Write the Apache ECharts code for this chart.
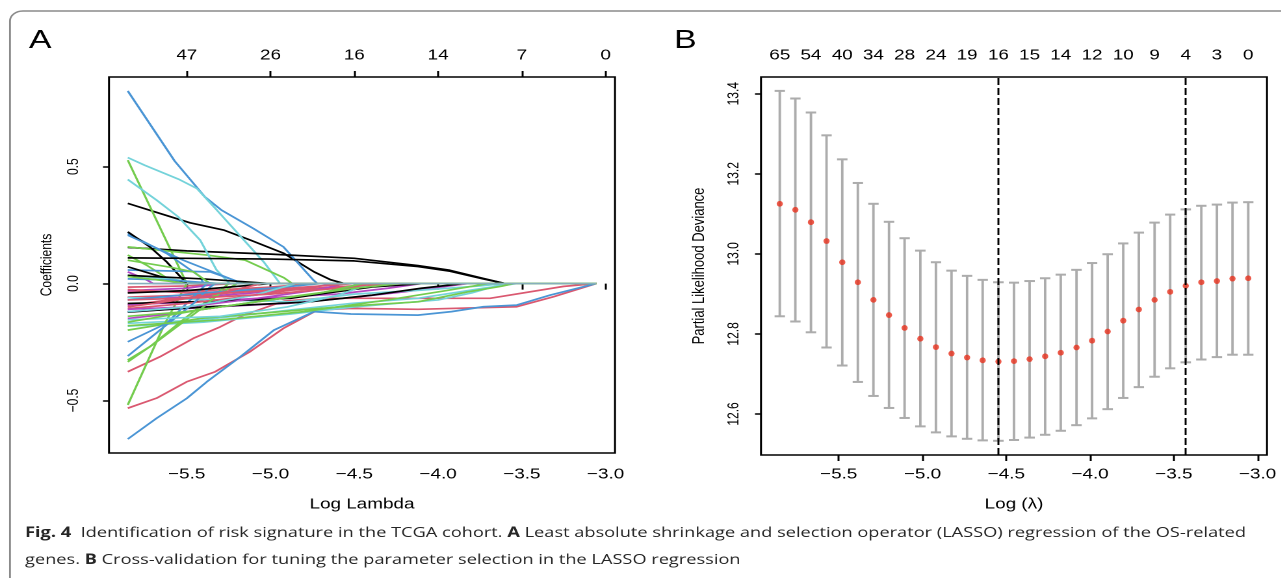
<!DOCTYPE html>
<html><head><meta charset="utf-8">
<script src="https://cdn.jsdelivr.net/npm/echarts@6/dist/echarts.min.js"></script>
<style>
html,body{margin:0;padding:0;background:#fff;overflow:hidden;}
#c{width:986px;height:578px;transform:scaleX(1.3);transform-origin:0 0;}
</style>
</head><body><div id="c"></div>
<script>
// ---------- Panel A: LASSO coefficient paths (x = log lambda, y = coefficient) ----------
const lassoTicksX = [-5.5, -5.0, -4.5, -4.0, -3.5, -3.0];
const lassoDfLabels = ['47', '26', '16', '14', '7', '0'];
const lassoTicksY = [-0.5, 0.0, 0.5];
const lassoEndLambda = -3.056;

const blackPaths = [
  [[-5.852,0.343],[-5.66,0.300],[-5.48,0.260],[-5.28,0.229],[-5.12,0.186],[-4.92,0.129],[-4.74,0.050],[-4.64,0.016],[-4.56,0]],
  [[-5.852,0.155],[-5.5,0.140],[-5.0,0.126],[-4.5,0.108],[-4.12,0.077],[-3.93,0.057],[-3.73,0.022],[-3.6,0]],
  [[-5.852,0.221],[-5.72,0.157],[-5.62,0.093],[-5.5,0]],
  [[-5.852,0.110],[-5.5,0.108],[-5.0,0.105],[-4.5,0.097],[-4.12,0.073],[-3.93,0.053],[-3.73,0.020],[-3.6,0]],
  [[-5.852,0.072],[-5.62,0.022],[-5.5,0]],
  [[-5.852,-0.122],[-5.4,-0.100],[-4.78,-0.079],[-4.4,-0.050],[-4.1,-0.020],[-3.85,0]],
  [[-5.852,-0.085],[-5.3,-0.075],[-4.88,-0.063],[-4.68,-0.042],[-4.39,-0.014],[-4.09,0]],
  [[-5.852,0.035],[-5.4,0.020],[-5.0,0]],
  [[-5.852,-0.040],[-5.5,-0.030],[-5.0,0]]
];
const pinkPaths = [
  [[-5.852,-0.533],[-5.68,-0.490],[-5.5,-0.420],[-5.33,-0.377],[-5.12,-0.290],[-4.92,-0.190],[-4.72,-0.113],[-4.52,-0.106],[-4.12,-0.110],[-3.53,-0.099],[-3.31,-0.056],[-3.056,0]],
  [[-5.852,-0.377],[-5.66,-0.313],[-5.46,-0.234],[-5.3,-0.185],[-5.16,-0.135],[-4.92,-0.075],[-4.7,-0.063],[-3.69,-0.063],[-3.25,-0.012],[-3.056,0]],
  [[-5.852,-0.015],[-5.5,-0.010],[-5.2,0]],
  [[-5.852,-0.036],[-5.4,-0.030],[-5.0,-0.015],[-4.75,0]],
  [[-5.852,-0.058],[-5.5,-0.050],[-5.0,-0.030],[-4.6,-0.014],[-4.3,0]],
  [[-5.852,-0.093],[-5.4,-0.050],[-4.9,-0.015],[-4.8,0]],
  [[-5.852,-0.107],[-5.5,-0.085],[-5.2,-0.060],[-4.88,-0.028],[-4.5,-0.014],[-4.2,0]],
  [[-5.852,-0.025],[-5.5,-0.040],[-5.1,-0.030],[-4.7,-0.010],[-4.5,0]],
  [[-5.852,-0.070],[-5.4,-0.060],[-5.0,-0.045],[-4.6,-0.020],[-4.35,0]],
  [[-5.852,-0.100],[-5.6,-0.075],[-5.3,-0.040],[-5.05,0]]
];
const greenPaths = [
  [[-5.852,0.528],[-5.5,0]],
  [[-5.852,0.157],[-5.38,0.122],[-5.15,0.100],[-4.92,0.025],[-4.87,0]],
  [[-5.852,0.122],[-5.74,0.079],[-5.6,0.015],[-5.56,0]],
  [[-5.852,-0.519],[-5.63,-0.170],[-5.5,0]],
  [[-5.852,-0.327],[-5.72,-0.270],[-5.5,-0.142],[-5.32,-0.042],[-5.25,0]],
  [[-5.852,-0.199],[-5.42,-0.149],[-4.82,-0.113],[-4.52,-0.096],[-4.12,-0.078],[-3.82,-0.035],[-3.62,-0.011],[-3.55,0]],
  [[-5.852,-0.335],[-5.7,-0.260],[-5.55,-0.180],[-5.4,-0.100],[-5.3,-0.040],[-5.2,0]],
  [[-5.852,-0.165],[-5.4,-0.110],[-4.82,-0.050],[-4.5,-0.020],[-4.22,0]],
  [[-5.852,0.100],[-5.6,0.070],[-5.46,0.050],[-5.36,0]],
  [[-5.852,-0.180],[-5.3,-0.155],[-4.8,-0.120],[-4.3,-0.070],[-3.95,-0.030],[-3.7,0]],
  [[-5.852,-0.140],[-5.5,-0.120],[-5.1,-0.080],[-4.7,-0.040],[-4.45,0]],
  [[-5.852,0.030],[-5.6,0.010],[-5.5,0]]
];
const bluePaths = [
  [[-5.852,0.824],[-5.572,0.524],[-5.392,0.371],[-5.292,0.314],[-5.103,0.236],[-4.923,0.157],[-4.744,0.015],[-4.72,0]],
  [[-5.852,0.214],[-5.62,0.129],[-5.42,0.030],[-5.4,0]],
  [[-5.852,0.207],[-5.52,0.100],[-5.22,0.015],[-5.18,0]],
  [[-5.852,0.058],[-5.36,0.050],[-5.16,0]],
  [[-5.852,-0.665],[-5.68,-0.576],[-5.5,-0.491],[-5.38,-0.420],[-5.18,-0.313],[-4.98,-0.199],[-4.74,-0.120],[-4.52,-0.130],[-4.12,-0.135],[-3.92,-0.120],[-3.73,-0.099],[-3.53,-0.092],[-3.33,-0.049],[-3.056,0]],
  [[-5.852,-0.249],[-5.62,-0.170],[-5.42,-0.028],[-5.38,0]],
  [[-5.852,-0.310],[-5.66,-0.199],[-5.46,-0.085],[-5.36,-0.014],[-5.33,0]],
  [[-5.852,-0.070],[-5.4,-0.040],[-5.0,-0.020],[-4.7,0]],
  [[-5.852,0.020],[-5.6,0.015],[-5.3,0]]
];
const cyanPaths = [
  [[-5.852,0.539],[-5.751,0.506],[-5.55,0.447],[-5.44,0.407],[-5.32,0.314],[-5.141,0.172],[-5.041,0.093],[-4.943,0]],
  [[-5.852,0.445],[-5.68,0.357],[-5.55,0.285],[-5.42,0.186],[-5.322,0.058],[-5.243,0]],
  [[-5.852,-0.170],[-5.42,-0.156],[-4.88,-0.113],[-4.52,-0.085],[-4.12,-0.063],[-3.73,-0.020],[-3.53,0]],
  [[-5.852,-0.182],[-5.4,-0.165],[-4.88,-0.130],[-4.5,-0.100],[-4.0,-0.070],[-3.8,-0.040],[-3.6,0]],
  [[-5.852,-0.060],[-5.3,-0.070],[-4.88,-0.078],[-4.5,-0.045],[-4.1,-0.028],[-3.75,-0.010],[-3.6,0]],
  [[-5.852,0.036],[-5.6,0.020],[-5.4,0]],
  [[-5.852,-0.155],[-5.3,-0.140],[-4.9,-0.100],[-4.6,-0.050],[-4.4,0]],
  [[-5.852,-0.120],[-5.5,-0.100],[-5.1,-0.050],[-4.85,0]]
];
const magentaPaths = [
  [[-5.852,-0.120],[-5.2,-0.095],[-4.9,-0.085],[-4.52,-0.060],[-4.2,-0.035],[-3.88,-0.005],[-3.82,0]],
  [[-5.852,0.050],[-5.75,0.020],[-5.7,0]],
  [[-5.852,-0.149],[-5.6,-0.130],[-5.3,-0.100],[-5.0,-0.070],[-4.7,-0.040],[-4.4,0]],
  [[-5.852,-0.060],[-5.5,-0.060],[-5.1,-0.040],[-4.8,-0.020],[-4.6,0]],
  [[-5.852,-0.030],[-5.5,-0.020],[-5.3,0]],
  [[-5.852,-0.090],[-5.5,-0.080],[-5.0,-0.060],[-4.6,-0.045],[-4.3,-0.020],[-4.1,0]],
  [[-5.852,-0.110],[-5.5,-0.100],[-5.1,-0.065],[-4.75,-0.030],[-4.55,0]]
];
// coefficients that stay at zero over the whole path (drawn last, on top of the zero line)
const zeroPaths = [
  [[-5.852,0],[-3.056,0]]
];

// ---------- Panel B: cross-validation curve ----------
const logLambda = [-5.852,-5.759,-5.666,-5.573,-5.479,-5.386,-5.293,-5.200,-5.107,-5.013,-4.920,-4.827,-4.734,-4.641,-4.547,-4.454,-4.361,-4.268,-4.175,-4.081,-3.988,-3.895,-3.802,-3.709,-3.615,-3.522,-3.429,-3.336,-3.243,-3.150,-3.056];
const cvMean  = [13.125,13.110,13.079,13.032,12.979,12.929,12.885,12.847,12.815,12.788,12.767,12.751,12.741,12.734,12.731,12.732,12.737,12.744,12.753,12.766,12.783,12.806,12.833,12.861,12.885,12.905,12.920,12.929,12.932,12.938,12.939];
const cvUpper = [13.407,13.388,13.353,13.296,13.236,13.177,13.125,13.080,13.039,13.008,12.979,12.958,12.945,12.935,12.929,12.928,12.932,12.939,12.948,12.960,12.977,12.999,13.026,13.053,13.078,13.098,13.111,13.120,13.123,13.128,13.129];
const cvLower = [12.844,12.831,12.804,12.766,12.721,12.680,12.645,12.615,12.590,12.569,12.554,12.544,12.538,12.534,12.533,12.535,12.541,12.548,12.558,12.572,12.589,12.612,12.640,12.667,12.693,12.714,12.729,12.736,12.742,12.748,12.748];
const nzLabels = ['65','54','40','34','28','24','19','16','15','14','12','10','9','4','3','0']; // shown at every other lambda
const lambdaMinLog = -4.547;
const lambda1seLog = -3.429;
const cvTicksX = [-5.5, -5.0, -4.5, -4.0, -3.5, -3.0];
const cvTicksY = [12.6, 12.8, 13.0, 13.2, 13.4];

// ---------- build ----------
const S = 1.3; // horizontal stretch of the reference figure (applied by CSS on the container)
const FONT = '"Liberation Sans", Arial, Helvetica, sans-serif';
const CAP_FONT = '"Open Sans", "Noto Sans", sans-serif';
const colorMap = {black:'#000000', pink:'#DA5870', green:'#74CC4E', blue:'#4A95D5', cyan:'#74D3DA', magenta:'#B447C2', zero:'#86AFBC'};
const groups = [['black',blackPaths],['pink',pinkPaths],['green',greenPaths],['blue',bluePaths],['cyan',cyanPaths],['magenta',magentaPaths]];
const fmtNum = v => (v < 0 ? '\u2212' : '') + Math.abs(v).toFixed(1);
const near = (a, b) => Math.abs(a - b) < 1e-6;

const series = [];
function addPath(p, name) {
  const last = p[p.length - 1];
  const data = (last[1] === 0 && last[0] < lassoEndLambda) ? p.concat([[lassoEndLambda, 0]]) : p;
  series.push({
    type: 'line', xAxisIndex: 0, yAxisIndex: 0, data: data,
    showSymbol: false, symbol: 'none', silent: true, animation: false,
    lineStyle: {color: colorMap[name], width: 1.7}
  });
}
const maxLen = Math.max(...groups.map(g => g[1].length));
for (let i = 0; i < maxLen; i++) {
  for (const [name, paths] of groups) {
    if (paths[i]) addPath(paths[i], name);
  }
}
zeroPaths.forEach(p => addPath(p, 'zero'));

const topLambda = logLambda.filter((_, i) => i % 2 === 0);

series.push({
  type: 'custom', xAxisIndex: 2, yAxisIndex: 1, silent: true, animation: false, z: 2,
  data: logLambda.map((x, i) => [x, cvLower[i], cvUpper[i]]),
  encode: {x: 0, y: [1, 2]},
  renderItem: function (params, api) {
    const x = api.value(0);
    const lo = api.coord([x, api.value(1)]);
    const hi = api.coord([x, api.value(2)]);
    const hw = 5.2 / S;
    const st = {stroke: '#ACACAC', lineWidth: 2};
    return {type: 'group', children: [
      {type: 'line', shape: {x1: lo[0], y1: lo[1], x2: hi[0], y2: hi[1]}, style: {stroke: '#ACACAC', lineWidth: 1.9}},
      {type: 'line', shape: {x1: lo[0] - hw, y1: lo[1], x2: lo[0] + hw, y2: lo[1]}, style: st},
      {type: 'line', shape: {x1: hi[0] - hw, y1: hi[1], x2: hi[0] + hw, y2: hi[1]}, style: st}
    ]};
  }
});
series.push({
  type: 'scatter', xAxisIndex: 2, yAxisIndex: 1, silent: true, animation: false, z: 3,
  data: logLambda.map((x, i) => [x, cvMean[i]]),
  symbol: 'circle', symbolSize: [6.2 / S, 5.8],
  itemStyle: {color: '#E8321E'},
  markLine: {
    silent: true, symbol: ['none', 'none'], label: {show: false}, animation: false, z: 5,
    lineStyle: {color: '#000', type: [7, 3], width: 1.5},
    data: [{xAxis: lambdaMinLog}, {xAxis: lambda1seLog}]
  }
});

const tickStyle = {show: true, length: 6, lineStyle: {color: '#000', width: 1.5}};
const labelBase = {color: '#000', fontFamily: FONT, fontSize: 14.5};

const option = {
  animation: false,
  backgroundColor: '#fff',
  grid: [
    {left: 109 / S, top: 77, width: 506 / S, height: 376, show: true, borderColor: '#000', borderWidth: 1.5, backgroundColor: 'transparent', outerBoundsMode: 'none'},
    {left: 761 / S, top: 77, width: 506 / S, height: 378, show: true, borderColor: '#000', borderWidth: 1.5, backgroundColor: 'transparent', outerBoundsMode: 'none'}
  ],
  xAxis: [
    {type: 'value', gridIndex: 0, position: 'bottom', min: -5.964, max: -2.944,
     axisLine: {show: false}, splitLine: {show: false},
     axisTick: Object.assign({customValues: lassoTicksX}, tickStyle),
     axisLabel: Object.assign({customValues: lassoTicksX, margin: 14, formatter: fmtNum}, labelBase),
     name: 'Log Lambda', nameLocation: 'middle', nameGap: 44,
     nameTextStyle: {color: '#000', fontFamily: FONT, fontSize: 14.5}},
    {type: 'value', gridIndex: 0, position: 'top', min: -5.964, max: -2.944,
     axisLine: {show: false}, splitLine: {show: false},
     axisTick: Object.assign({customValues: lassoTicksX}, tickStyle),
     axisLabel: Object.assign({customValues: lassoTicksX, margin: 14,
       formatter: v => lassoDfLabels[lassoTicksX.findIndex(t => near(t, v))]}, labelBase)},
    {type: 'value', gridIndex: 1, position: 'bottom', min: -5.964, max: -2.944,
     axisLine: {show: false}, splitLine: {show: false},
     axisTick: Object.assign({customValues: cvTicksX}, tickStyle),
     axisLabel: Object.assign({customValues: cvTicksX, margin: 12, formatter: fmtNum}, labelBase),
     name: 'Log (\u03bb)', nameLocation: 'middle', nameGap: 42,
     nameTextStyle: {color: '#000', fontFamily: FONT, fontSize: 14.5}},
    {type: 'value', gridIndex: 1, position: 'top', min: -5.964, max: -2.944,
     axisLine: {show: false}, splitLine: {show: false},
     axisTick: {show: false},
     axisLabel: Object.assign({customValues: topLambda, margin: 14,
       formatter: v => nzLabels[topLambda.findIndex(t => near(t, v))]}, labelBase)}
  ],
  yAxis: [
    {type: 'value', gridIndex: 0, min: -0.7246, max: 0.8836,
     axisLine: {show: false}, splitLine: {show: false},
     axisTick: Object.assign({customValues: lassoTicksY}, tickStyle, {length: 6 / S}),
     axisLabel: Object.assign({}, labelBase, {customValues: lassoTicksY, margin: 21, rotate: 90, fontSize: 12, formatter: fmtNum}),
     name: 'Coefficients', nameLocation: 'middle', nameGap: 41.5, nameRotate: 90,
     nameTextStyle: {color: '#000', fontFamily: FONT, fontSize: 12}},
    {type: 'value', gridIndex: 1, min: 12.4975, max: 13.4417,
     axisLine: {show: false}, splitLine: {show: false},
     axisTick: Object.assign({customValues: cvTicksY}, tickStyle, {length: 6 / S}),
     axisLabel: Object.assign({}, labelBase, {customValues: cvTicksY, margin: 14.8, rotate: 90, fontSize: 12, formatter: v => v.toFixed(1)}),
     name: 'Partial Likelihood Deviance', nameLocation: 'middle', nameGap: 41.2, nameRotate: 90,
     nameTextStyle: {color: '#000', fontFamily: FONT, fontSize: 13}}
  ],
  graphic: [
    {type: 'rect', silent: true, z: -10, shape: {x: 10 / S, y: 11, width: 1300 / S, height: 620, r: 10},
     style: {fill: 'none', stroke: '#8a8a8a', lineWidth: 1.4}},
    {type: 'text', x: 29 / S, y: 28, silent: true,
     style: {text: 'A', fontFamily: FONT, fontSize: 26, fill: '#000'}},
    {type: 'text', x: 674 / S, y: 28, silent: true,
     style: {text: 'B', fontFamily: FONT, fontSize: 26, fill: '#000'}},
    {type: 'text', x: 25 / S, y: 533, silent: true,
     style: {text: '{b|Fig. 4}  Identification of risk signature in the TCGA cohort. {b|A} Least absolute shrinkage and selection operator (LASSO) regression of the OS-related',
       fontFamily: CAP_FONT, fontSize: 14, fill: '#262626', verticalAlign: 'middle',
       rich: {b: {fontWeight: 'bold', fontFamily: CAP_FONT, fontSize: 14, fill: '#262626'}}}},
    {type: 'text', x: 25 / S, y: 560, silent: true,
     style: {text: 'genes. {b|B} Cross-validation for tuning the parameter selection in the LASSO regression',
       fontFamily: CAP_FONT, fontSize: 14, fill: '#262626', verticalAlign: 'middle',
       rich: {b: {fontWeight: 'bold', fontFamily: CAP_FONT, fontSize: 14, fill: '#262626'}}}}
  ],
  series: series
};

const chart = echarts.init(document.getElementById('c'), null, {renderer: 'canvas', devicePixelRatio: 2});
chart.setOption(option);
</script>
</body></html>
